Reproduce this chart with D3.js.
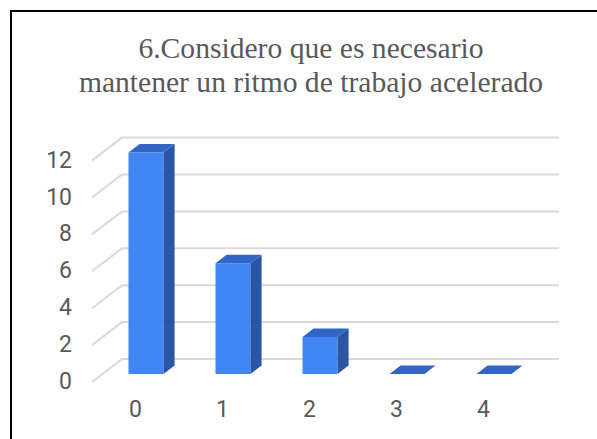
<!DOCTYPE html>
<html>
<head>
<meta charset="utf-8">
<script src="https://cdn.jsdelivr.net/npm/d3@7"></script>
<style>
  body { margin: 0; background: #fff; }
  svg { display: block; }
  .title { font-family: "Liberation Serif", "DejaVu Serif", serif; }
  .lbl { font-family: Roboto, "Liberation Sans", Arial, sans-serif; }
</style>
</head>
<body>
<div id="chart"></div>
<script>
// chart data
var titleLines = ["6.Considero que es necesario", "mantener un ritmo de trabajo acelerado"];
var categories = ["0", "1", "2", "3", "4"];
var counts = [12, 6, 2, 0, 0];
var yTicks = [0, 2, 4, 6, 8, 10, 12];

var width = 597, height = 439;

// 3d projection: depth offset of the back wall
var depthX = 30, depthY = 23;
var barZ0 = 0.35, barZ1 = 0.72;

var svg = d3.select("#chart").append("svg")
    .attr("width", width)
    .attr("height", height);

// outer frame (runs off right/bottom)
svg.append("rect")
    .attr("x", 11).attr("y", 11)
    .attr("width", 700).attr("height", 600)
    .style("fill", "none")
    .style("stroke", "#000")
    .style("stroke-width", 2);

// title
var title = svg.append("g").selectAll("text")
    .data(titleLines)
    .enter().append("text")
    .attr("class", "title")
    .attr("x", 311)
    .attr("y", function(d, i) { return 58 + i * 34; })
    .attr("text-anchor", "middle")
    .style("font-size", "27px")
    .style("fill", "#595959")
    .text(function(d) { return d; });

// fit the title so the long line spans about 465px, whatever serif is found
var longW = title.nodes()[1].getComputedTextLength();
if (longW > 0) {
    title.style("font-size", (27 * 465 / longW).toFixed(1) + "px");
}

// scales on the front plane
var x = d3.scaleBand().domain(categories).range([92, 527]);
var y = d3.scaleLinear().domain([0, 12]).range([382, 160.6]);

function pt(px, py, z) {
    return [px + z * depthX, py - z * depthY];
}

// gridlines: left side diagonal + back wall
var grid = svg.append("g").attr("class", "grid");
yTicks.forEach(function(v) {
    var a = pt(x.range()[0], y(v), 0), b = pt(x.range()[0], y(v), 1), c = pt(x.range()[1] + 2, y(v), 1);
    grid.append("path")
        .attr("d", d3.line()([a, b, c]))
        .style("fill", "none")
        .style("stroke", "#d9d9d9")
        .style("stroke-width", 2);
});

// y axis labels
svg.append("g").selectAll("text")
    .data(yTicks)
    .enter().append("text")
    .attr("class", "lbl")
    .attr("x", 72)
    .attr("y", function(d) { return y(d) - 1; })
    .attr("dy", "0.35em")
    .attr("text-anchor", "end")
    .style("font-size", "23px")
    .style("fill", "#595959")
    .text(function(d) { return d; });

// x axis labels
svg.append("g").selectAll("text")
    .data(categories)
    .enter().append("text")
    .attr("class", "lbl")
    .attr("x", function(d) { return x(d) + x.bandwidth() / 2; })
    .attr("y", 409)
    .attr("dy", "0.35em")
    .attr("text-anchor", "middle")
    .style("font-size", "23px")
    .style("fill", "#595959")
    .text(function(d) { return d; });

// 3d bars
var barW = 35;
var bars = svg.append("g").selectAll("g")
    .data(categories.map(function(c, i) { return {cat: c, value: counts[i]}; }))
    .enter().append("g");

bars.each(function(d) {
    var g = d3.select(this);
    var cx = x(d.cat) + x.bandwidth() / 2;
    var l = cx - barW / 2, r = cx + barW / 2;
    var top = y(d.value), base = y(0);
    var line = d3.line();

    if (d.value > 0) {
        // front
        g.append("path")
            .attr("d", line([pt(l, base, barZ0), pt(r, base, barZ0), pt(r, top, barZ0), pt(l, top, barZ0)]) + "Z")
            .style("fill", "#4285f4");
        // side
        g.append("path")
            .attr("d", line([pt(r, base, barZ0), pt(r, base, barZ1), pt(r, top, barZ1), pt(r, top, barZ0)]) + "Z")
            .style("fill", "#2a56a6");
    }
    // top
    g.append("path")
        .attr("d", line([pt(l, top, barZ0), pt(r, top, barZ0), pt(r, top, barZ1), pt(l, top, barZ1)]) + "Z")
        .style("fill", "#3366c4");
});
</script>
</body>
</html>
